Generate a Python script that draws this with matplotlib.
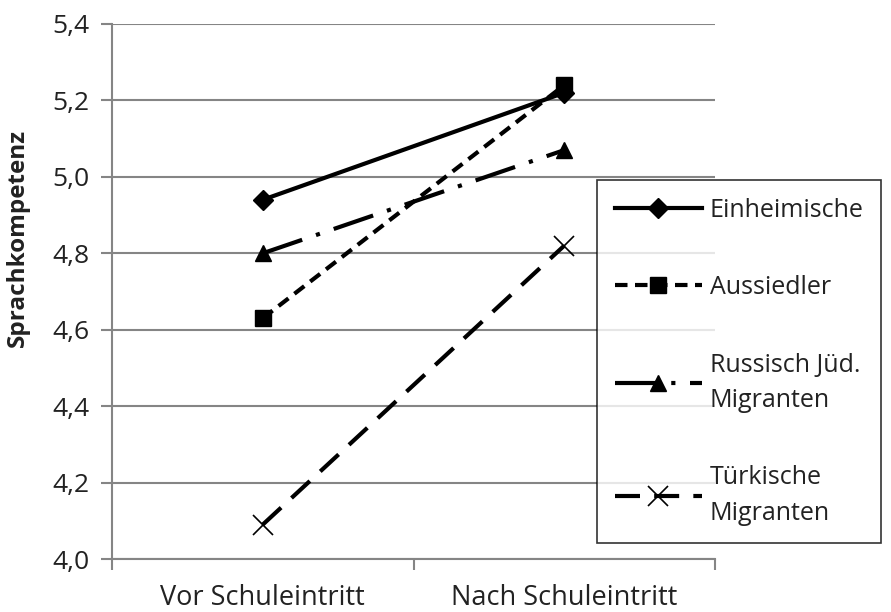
import matplotlib

matplotlib.use("Agg")
import matplotlib.pyplot as plt
from matplotlib.ticker import FuncFormatter

plt.rcParams["font.family"] = ["Open Sans", "DejaVu Sans"]

zeitpunkte = ["Vor Schuleintritt", "Nach Schuleintritt"]
einheimische = [4.94, 5.22]
aussiedler = [4.63, 5.24]
russisch = [4.80, 5.07]
tuerkisch = [4.09, 4.82]

serien = [
    ("Einheimische", einheimische, "-", "D", 10),
    ("Aussiedler", aussiedler, (0, (3.0, 1.8)), "s", 12),
    ("Russisch Jüd.\nMigranten", russisch, (0, (10, 3.5, 1, 3.5)), "^", 12),
    ("Türkische\nMigranten", tuerkisch, (0, (6, 3.4)), "x", 14),
]

grau = "#858585"
text = "#222222"
fig = plt.figure(figsize=(8.91, 6.12), dpi=100)
ax = fig.add_axes([112 / 891, 53 / 612, 603 / 891, 535 / 612])

xs = [0.5, 1.5]
handles = []
for name, werte, ls, mk, ms in serien:
    (h,) = ax.plot(xs, werte, color="black", lw=3, ls=ls, marker=mk,
                   markersize=ms, markeredgewidth=1.2 if mk == "x" else 1,
                   label=name, zorder=3)
    handles.append(h)

ax.set_xlim(0, 2)
ax.set_ylim(4.0, 5.4)
ax.set_yticks([4.0, 4.2, 4.4, 4.6, 4.8, 5.0, 5.2, 5.4])
ax.yaxis.set_major_formatter(FuncFormatter(lambda v, p: f"{v:.1f}".replace(".", ",")))
ax.grid(axis="y", color=grau, lw=1.5, zorder=0)
ax.set_xticks([0, 1, 2])
ax.set_xticklabels([])
ax.set_xticks(xs, minor=True)
ax.set_xticklabels(zeitpunkte, minor=True)
ax.tick_params(axis="x", which="minor", length=0, pad=18, labelsize=19.5,
               labelcolor=text)
ax.tick_params(axis="x", which="major", length=8, width=1.5, color=grau)
ax.tick_params(axis="y", length=8, width=1.5, color=grau, labelsize=19,
               pad=8, labelcolor=text)
for s in ["top", "right"]:
    ax.spines[s].set_visible(False)
for s in ["left", "bottom"]:
    ax.spines[s].set_color(grau)
    ax.spines[s].set_linewidth(1.5)
ax.set_ylabel("Sprachkompetenz", fontsize=17.5, fontweight="bold", color=text)
ax.yaxis.set_label_coords(-0.136, 0.60)

leg = fig.legend(handles=handles, loc="upper left",
                 bbox_to_anchor=(597 / 891, 1 - 180 / 612),
                 borderaxespad=0,
                 frameon=True, fancybox=False, fontsize=18,
                 handlelength=3.5, labelspacing=2.1, borderpad=0.7,
                 handletextpad=0.3, labelcolor=text)
for t in leg.get_texts():
    t.set_linespacing(1.55)
leg.get_frame().set_edgecolor("black")
leg.get_frame().set_linewidth(1.2)

fig.savefig("out.png", dpi=100)
